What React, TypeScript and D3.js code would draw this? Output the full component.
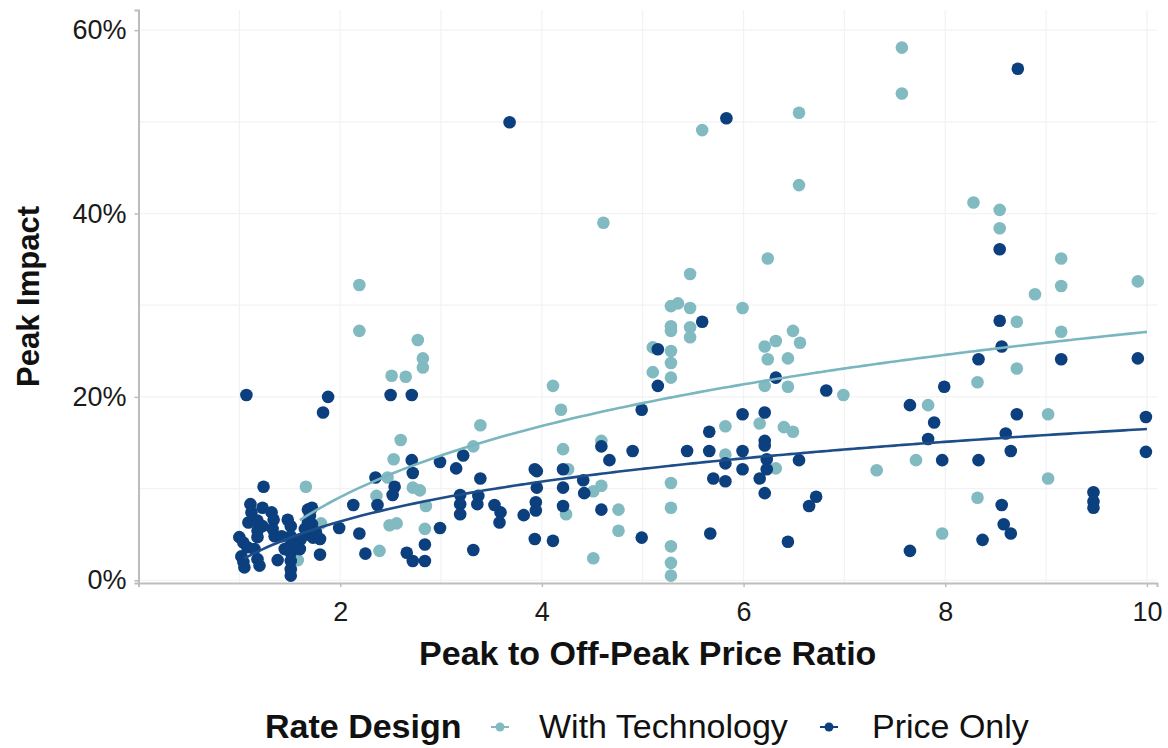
import { useEffect, useRef } from "react";
import * as d3 from "d3";

// With Technology: [price ratio, peak impact %]
const withTechnology = [
  [2.19, 32.2], [2.19, 27.2], [2.77, 26.2], [2.82, 24.2], [2.82, 23.2], [2.51, 22.3],
  [2.65, 22.2], [2.6, 15.3], [2.53, 13.2], [2.47, 11.2], [2.36, 9.2], [2.72, 10.1],
  [2.79, 9.8], [2.85, 8.1], [2.49, 6.0], [2.56, 6.2], [2.84, 5.6], [2.39, 3.2],
  [1.66, 10.2], [1.58, 2.2], [1.81, 6.2], [4.61, 39.0], [5.28, 29.9], [5.35, 30.2],
  [5.28, 27.7], [5.28, 27.2], [4.11, 21.2], [4.19, 18.6], [3.39, 16.9], [3.32, 14.6],
  [4.21, 14.3], [4.26, 12.1], [4.24, 7.2], [4.51, 9.7], [4.59, 10.3], [4.59, 15.2],
  [4.76, 7.7], [4.76, 5.4], [4.51, 2.4], [5.1, 25.4], [5.28, 25.0], [5.28, 23.7],
  [5.1, 22.7], [5.28, 22.1], [5.28, 10.6], [5.28, 7.9], [5.28, 3.7], [5.28, 1.9],
  [5.28, 0.5], [7.57, 58.1], [7.57, 53.1], [5.59, 49.1], [6.55, 51.0], [6.55, 43.1],
  [6.24, 35.1], [5.47, 33.4], [5.47, 29.7], [5.99, 29.7], [5.47, 27.6], [5.47, 26.5],
  [6.49, 27.2], [6.32, 26.1], [6.56, 25.9], [6.21, 25.5], [6.24, 24.1], [6.44, 24.2],
  [6.21, 21.2], [6.44, 21.1], [6.99, 20.2], [5.82, 16.8], [6.16, 17.1], [6.4, 16.7],
  [6.49, 16.2], [5.82, 13.7], [6.32, 12.2], [7.32, 12.0], [7.71, 13.1], [8.28, 41.2],
  [8.54, 40.4], [8.54, 38.4], [9.15, 35.1], [9.15, 32.1], [9.91, 32.6], [8.89, 31.2],
  [8.71, 28.2], [9.15, 27.1], [8.71, 23.1], [8.32, 21.6], [7.83, 19.1], [9.02, 18.1],
  [9.02, 11.1], [8.32, 9.0], [7.97, 5.1],
];

// Price Only: [price ratio, peak impact %]
const priceOnly = [
  [1.07, 20.2], [1.88, 20.0], [1.83, 18.3], [2.5, 20.2], [2.71, 20.2], [2.71, 13.1],
  [2.72, 11.7], [2.35, 11.2], [2.54, 10.2], [2.52, 9.3], [2.37, 8.2], [2.13, 8.2],
  [1.99, 5.7], [2.19, 5.1], [2.25, 2.9], [2.66, 3.0], [2.72, 2.1], [2.84, 3.9],
  [2.84, 2.1], [1.24, 10.2], [1.8, 4.5], [1.8, 2.8], [3.68, 49.95], [5.15, 25.2],
  [5.15, 21.2], [4.99, 18.6], [4.59, 14.6], [4.67, 13.1], [4.9, 14.1], [4.41, 10.9],
  [4.42, 9.5], [4.59, 7.7], [4.99, 4.65], [4.21, 12.1], [4.21, 10.1], [4.21, 8.1],
  [4.11, 4.3], [3.93, 12.1], [3.95, 11.9], [3.95, 10.1], [3.94, 8.5], [3.94, 7.6],
  [3.93, 4.5], [3.82, 7.1], [3.59, 7.4], [3.58, 6.3], [3.53, 8.2], [3.39, 11.1],
  [3.37, 9.2], [3.36, 8.3], [3.19, 9.3], [3.19, 8.3], [3.19, 7.2], [3.22, 13.6],
  [3.15, 12.2], [2.99, 12.9], [2.99, 5.7], [3.32, 3.3], [5.83, 50.4], [5.59, 28.2],
  [6.32, 22.1], [6.82, 20.7], [7.65, 19.1], [5.99, 18.1], [6.21, 18.3], [5.66, 16.2],
  [6.21, 15.2], [6.21, 14.7], [5.44, 14.1], [5.66, 14.1], [5.99, 14.1], [5.82, 12.75],
  [6.23, 13.2], [6.23, 12.1], [5.99, 12.1], [6.55, 13.1], [5.7, 11.1], [5.82, 10.8],
  [6.16, 11.1], [6.21, 9.5], [6.72, 9.1], [6.65, 8.1], [5.67, 5.1], [6.44, 4.2],
  [7.65, 3.2], [8.72, 55.8], [8.54, 36.1], [8.54, 28.3], [8.56, 25.5], [8.33, 24.1],
  [9.15, 24.1], [9.91, 24.2], [7.99, 21.1], [7.89, 17.2], [8.71, 18.1], [9.99, 17.8],
  [7.83, 15.4], [8.6, 16.0], [8.65, 14.1], [9.99, 14.0], [7.97, 13.1], [8.33, 13.1],
  [9.47, 9.6], [9.47, 8.6], [9.47, 7.9], [8.56, 8.2], [8.58, 6.1], [8.65, 5.1],
  [8.37, 4.4], [1.11, 8.3], [1.12, 7.4], [1.09, 6.3], [1.23, 7.9], [1.32, 7.4],
  [1.34, 6.6], [1.18, 6.5], [1.23, 5.9], [1.33, 5.6], [1.35, 4.8], [1.18, 5.4],
  [1.18, 4.7], [1.0, 4.7], [1.04, 4.1], [1.08, 3.6], [1.15, 3.4], [1.02, 2.6],
  [1.04, 2.0], [1.05, 1.4], [1.18, 2.3], [1.2, 1.6], [1.38, 2.2], [1.48, 6.6],
  [1.51, 5.9], [1.51, 4.8], [1.51, 3.9], [1.51, 3.0], [1.51, 2.1], [1.51, 1.2],
  [1.51, 0.5], [1.42, 4.8], [1.45, 3.4], [1.68, 7.7], [1.72, 7.9], [1.7, 7.0],
  [1.68, 6.3], [1.72, 6.1], [1.65, 5.6], [1.68, 5.0], [1.73, 4.65], [1.76, 5.2],
  [1.61, 4.5], [1.6, 3.4],
];

// log fits: y = a + b * ln(x), over [from, to]
const techFit = { a: 1.3, b: 11.2, from: 1.6, to: 10 };
const priceFit = { a: 2.08, b: 6.26, from: 1.05, to: 10 };

const xTicks = [2, 4, 6, 8, 10];
const xGrid = [1, 2, 3, 4, 5, 6, 7, 8, 9, 10];
const yTicks = [0, 20, 40, 60];
const yGrid = [0, 10, 20, 30, 40, 50, 60];

const TEAL = "#82bac2";
const NAVY = "#0b3f7e";
const FONT = "'Liberation Sans', Arial, sans-serif";

const App = () => {
  const svgRef = useRef();

  useEffect(() => {
    const W = 1168, H = 748;
    const svg = d3.select(svgRef.current);
    svg.selectAll("*").remove();

    const x = d3.scaleLinear().domain([0, 10.1]).range([138.5, 1157]);
    const y = d3.scaleLinear().domain([-0.3, 62.2]).range([583, 10]);

    svg.append("rect").attr("width", W).attr("height", H).attr("fill", "#fff");

    // grid
    const grid = svg.append("g");
    grid.selectAll(".vg").data(xGrid).enter().append("line")
      .attr("x1", (d) => x(d)).attr("x2", (d) => x(d))
      .attr("y1", y.range()[1]).attr("y2", y.range()[0])
      .attr("stroke", "#f2f2f2").attr("stroke-width", 1.2);
    grid.selectAll(".hg").data(yGrid).enter().append("line")
      .attr("y1", (d) => y(d)).attr("y2", (d) => y(d))
      .attr("x1", x.range()[0]).attr("x2", x.range()[1])
      .attr("stroke", "#f2f2f2").attr("stroke-width", 1.2);

    // points
    svg.append("g").selectAll("circle").data(withTechnology).enter().append("circle")
      .attr("cx", (d) => x(d[0])).attr("cy", (d) => y(d[1]))
      .attr("r", 6.3).attr("fill", TEAL);
    svg.append("g").selectAll("circle").data(priceOnly).enter().append("circle")
      .attr("cx", (d) => x(d[0])).attr("cy", (d) => y(d[1]))
      .attr("r", 6.3).attr("fill", NAVY);

    // fitted curves
    const line = d3.line().x((d) => x(d[0])).y((d) => y(d[1])).curve(d3.curveMonotoneX);
    const curve = (f) => d3.range(0, 101).map((i) => {
      const v = f.from + ((f.to - f.from) * i) / 100;
      return [v, f.a + f.b * Math.log(v)];
    });
    svg.append("path").datum(curve(techFit)).attr("d", line)
      .attr("fill", "none").attr("stroke", "#7ab6bf").attr("stroke-width", 2.6);
    svg.append("path").datum(curve(priceFit)).attr("d", line)
      .attr("fill", "none").attr("stroke", "#1d4e8a").attr("stroke-width", 2.6);

    // axes
    const xAxis = svg.append("g").attr("transform", `translate(0,${y.range()[0]})`)
      .call(d3.axisBottom(x).tickValues(xTicks).tickSize(4).tickPadding(15).tickFormat((d) => d));
    const yAxis = svg.append("g").attr("transform", `translate(${x.range()[0]},0)`)
      .call(d3.axisLeft(y).tickValues(yTicks).tickSize(4).tickPadding(8).tickFormat((d) => `${d}%`));
    [xAxis, yAxis].forEach((a) => {
      a.select(".domain").attr("stroke", "#bdbdbd").attr("stroke-width", 2);
      a.selectAll(".tick line").attr("stroke", "#bdbdbd").attr("stroke-width", 1.5);
      a.selectAll("text").attr("fill", "#1a1a1a").style("font-family", FONT).style("font-size", "27px");
    });

    // titles
    svg.append("text").attr("x", (x.range()[0] + x.range()[1]) / 2).attr("y", 665)
      .attr("text-anchor", "middle").style("font-family", FONT).style("font-size", "34px")
      .style("font-weight", "bold").attr("fill", "#111").text("Peak to Off-Peak Price Ratio");
    svg.append("text").attr("transform", `translate(39,${(y.range()[0] + y.range()[1]) / 2}) rotate(-90)`)
      .attr("text-anchor", "middle").style("font-family", FONT).style("font-size", "31px")
      .style("font-weight", "bold").attr("fill", "#111").text("Peak Impact");

    // legend
    const lg = svg.append("g").style("font-family", FONT).style("font-size", "34px").attr("fill", "#111");
    lg.append("text").attr("x", 265).attr("y", 738).style("font-weight", "bold").text("Rate Design");
    const keys = [
      { label: "With Technology", color: TEAL, kx: 500, tx: 539 },
      { label: "Price Only", color: NAVY, kx: 829, tx: 872 },
    ];
    keys.forEach((k) => {
      lg.append("line").attr("x1", k.kx - 9).attr("x2", k.kx + 9).attr("y1", 727).attr("y2", 727)
        .attr("stroke", k.color).attr("stroke-width", 2);
      lg.append("circle").attr("cx", k.kx).attr("cy", 727).attr("r", 4.5).attr("fill", k.color);
      lg.append("text").attr("x", k.tx).attr("y", 738).text(k.label);
    });
  }, []);

  return (
    <div style={{ position: "absolute", left: 0, top: 0 }}>
      <svg ref={svgRef} width={1168} height={748} style={{ display: "block" }}></svg>
    </div>
  );
};

export default App;
